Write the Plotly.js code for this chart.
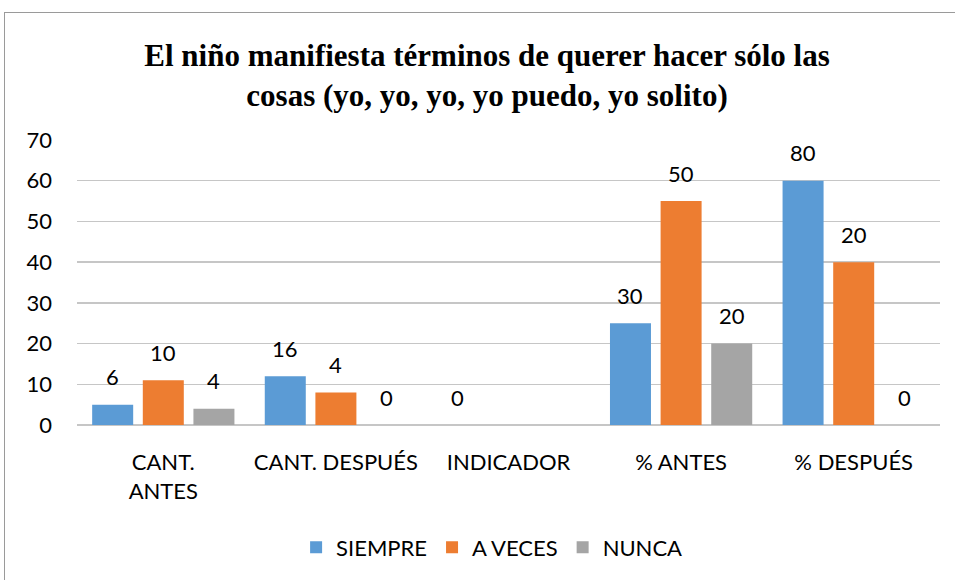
<!DOCTYPE html>
<html>
<head>
<meta charset="utf-8">
<script src="https://cdn.plot.ly/plotly-3.0.1.min.js"></script>
<style>
  html, body { margin: 0; padding: 0; background: #fff; }
  #wrap { position: relative; width: 955px; height: 580px; overflow: hidden; }
  #frame { position: absolute; left: 4px; top: 12px; width: 1000px; height: 1000px;
           border-left: 1.5px solid #9a9a9a; border-top: 1.5px solid #9a9a9a; pointer-events: none; }
  #chart { position: absolute; left: 0; top: 0; width: 955px; height: 580px; }
</style>
</head>
<body>
<div id="wrap">
  <div id="chart"></div>
  <div id="frame"></div>
</div>
<script>
// Categories and series
const categories = ["CANT.<br>ANTES", "CANT. DESPUÉS", "INDICADOR", "% ANTES", "% DESPUÉS"];
const seriesNames = ["SIEMPRE", "A VECES", "NUNCA"];
// Bar heights as drawn
const siempre = [5, 12, 0, 25, 60];
const aveces  = [11, 8, null, 55, 40];
const nunca   = [4, 0, null, 20, 0];
// Data labels as printed
const siempreLabels = ["6", "16", "0", "30", "80"];
const avecesLabels  = ["10", "4", "", "50", "20"];
const nuncaLabels   = ["4", "0", "", "20", "0"];

const colors = ["#5B9BD5", "#ED7D31", "#A5A5A5"];
const values = [siempre, aveces, nunca];
const labels = [siempreLabels, avecesLabels, nuncaLabels];

const W = 955, H = 580;
const margin = {l: 77, r: 15, t: 140, b: 155};
const bargap = 0.12, bargroupgap = 0.19;
const labelFont = {family: "Lato, 'Open Sans', sans-serif", size: 22, color: "#000"};

const traces = seriesNames.map((name, i) => ({
  type: "bar",
  name: name,
  x: categories,
  y: values[i],
  marker: {color: colors[i]},
  hoverinfo: "skip"
}));

// label annotations placed through the axes' scales
const catW = (W - margin.l - margin.r) / categories.length;
const slot = catW * (1 - bargap) / seriesNames.length;
const annotations = [];
seriesNames.forEach((name, i) => {
  categories.forEach((c, j) => {
    if (labels[i][j] === "" ) return;
    annotations.push({
      x: c, y: values[i][j] || 0, xref: "x", yref: "y",
      text: labels[i][j], showarrow: false,
      xshift: (i - 1) * slot, yshift: 28,
      yanchor: "middle",
      font: labelFont
    });
  });
});

const layout = {
  width: W, height: H,
  margin: margin,
  paper_bgcolor: "rgba(0,0,0,0)",
  plot_bgcolor: "rgba(0,0,0,0)",
  barmode: "group",
  bargap: bargap,
  bargroupgap: bargroupgap,
  title: {
    text: "El niño manifiesta términos de querer hacer sólo las<br>cosas (yo, yo, yo, yo puedo, yo solito)",
    font: {family: "'Liberation Serif', 'Times New Roman', serif", size: 31, color: "#000", weight: "bold"},
    x: 0.51, xref: "container", xanchor: "center",
    y: 1 - 66 / 580, yref: "container", yanchor: "middle"
  },
  xaxis: {
    type: "category",
    tickfont: labelFont,
    showgrid: false,
    showline: false,
    ticks: "",
    ticklabelstandoff: 22,
    fixedrange: true
  },
  yaxis: {
    range: [0, 70],
    dtick: 10,
    tickfont: labelFont,
    showgrid: true,
    gridcolor: "#c6c6c6",
    gridwidth: 1.3,
    zeroline: true,
    zerolinecolor: "#c6c6c6",
    zerolinewidth: 1.3,
    showline: false,
    ticks: "",
    ticklabelstandoff: 24,
    fixedrange: true
  },
  legend: {
    orientation: "h",
    x: 0.481, xanchor: "center",
    y: -0.43, yanchor: "middle",
    font: labelFont,
    itemwidth: 30,
    traceorder: "normal"
  },
  annotations: annotations,
  showlegend: true
};

Plotly.newPlot("chart", traces, layout, {displayModeBar: false, staticPlot: true});
</script>
</body>
</html>
